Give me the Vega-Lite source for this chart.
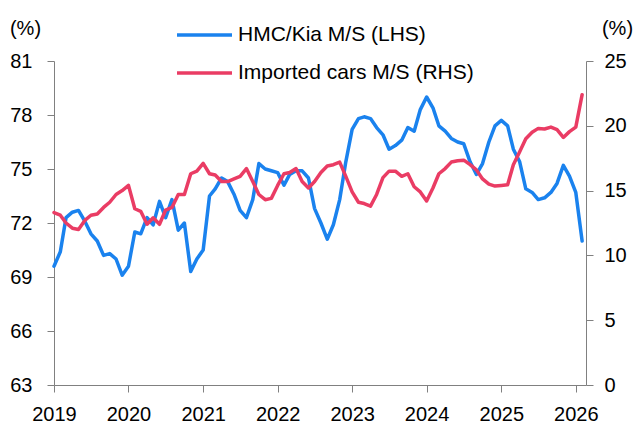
{
  "$schema": "https://vega.github.io/schema/vega-lite/v6.json",
  "width": 532,
  "height": 324,
  "autosize": {"type": "none"},
  "padding": {"left": 54, "top": 61, "right": 48, "bottom": 38},
  "config": {
    "view": {"stroke": null},
    "font": "Liberation Sans",
    "axis": {
      "domainColor": "#808080",
      "tickColor": "#808080",
      "tickSize": 7,
      "grid": false,
      "labelFont": "Liberation Sans",
      "labelFontSize": 20,
      "labelColor": "#000000",
      "labelOverlap": false,
      "labelFlush": false,
      "titleFont": "Liberation Sans",
      "titleFontSize": 20,
      "titleFontWeight": "normal",
      "titleColor": "#000000"
    }
  },
  "data": {
    "values": [
      {"date": "2019-01-01", "hmc": 69.6, "imp": 13.3},
      {"date": "2019-02-01", "hmc": 70.4, "imp": 13.1},
      {"date": "2019-03-01", "hmc": 72.3, "imp": 12.5},
      {"date": "2019-04-01", "hmc": 72.6, "imp": 12.1},
      {"date": "2019-05-01", "hmc": 72.7, "imp": 12.0},
      {"date": "2019-06-01", "hmc": 72.1, "imp": 12.7},
      {"date": "2019-07-01", "hmc": 71.4, "imp": 13.1},
      {"date": "2019-08-01", "hmc": 71.0, "imp": 13.2},
      {"date": "2019-09-01", "hmc": 70.2, "imp": 13.7},
      {"date": "2019-10-01", "hmc": 70.3, "imp": 14.1},
      {"date": "2019-11-01", "hmc": 70.0, "imp": 14.7},
      {"date": "2019-12-01", "hmc": 69.1, "imp": 15.0},
      {"date": "2020-01-01", "hmc": 69.6, "imp": 15.4},
      {"date": "2020-02-01", "hmc": 71.5, "imp": 13.6},
      {"date": "2020-03-01", "hmc": 71.4, "imp": 13.4},
      {"date": "2020-04-01", "hmc": 72.3, "imp": 12.4},
      {"date": "2020-05-01", "hmc": 71.9, "imp": 12.9},
      {"date": "2020-06-01", "hmc": 73.2, "imp": 12.4},
      {"date": "2020-07-01", "hmc": 72.3, "imp": 13.5},
      {"date": "2020-08-01", "hmc": 73.3, "imp": 13.7},
      {"date": "2020-09-01", "hmc": 71.6, "imp": 14.7},
      {"date": "2020-10-01", "hmc": 72.0, "imp": 14.7},
      {"date": "2020-11-01", "hmc": 69.3, "imp": 16.3},
      {"date": "2020-12-01", "hmc": 70.0, "imp": 16.5},
      {"date": "2021-01-01", "hmc": 70.5, "imp": 17.1},
      {"date": "2021-02-01", "hmc": 73.5, "imp": 16.3},
      {"date": "2021-03-01", "hmc": 73.9, "imp": 16.2},
      {"date": "2021-04-01", "hmc": 74.5, "imp": 15.7},
      {"date": "2021-05-01", "hmc": 74.3, "imp": 15.7},
      {"date": "2021-06-01", "hmc": 73.6, "imp": 15.9},
      {"date": "2021-07-01", "hmc": 72.7, "imp": 16.1},
      {"date": "2021-08-01", "hmc": 72.3, "imp": 16.7},
      {"date": "2021-09-01", "hmc": 73.3, "imp": 15.7},
      {"date": "2021-10-01", "hmc": 75.3, "imp": 14.7},
      {"date": "2021-11-01", "hmc": 75.0, "imp": 14.3},
      {"date": "2021-12-01", "hmc": 74.9, "imp": 14.4},
      {"date": "2022-01-01", "hmc": 74.8, "imp": 15.4},
      {"date": "2022-02-01", "hmc": 74.1, "imp": 16.3},
      {"date": "2022-03-01", "hmc": 74.7, "imp": 16.4},
      {"date": "2022-04-01", "hmc": 74.9, "imp": 16.7},
      {"date": "2022-05-01", "hmc": 74.9, "imp": 15.7},
      {"date": "2022-06-01", "hmc": 74.5, "imp": 15.2},
      {"date": "2022-07-01", "hmc": 72.8, "imp": 15.7},
      {"date": "2022-08-01", "hmc": 72.0, "imp": 16.4},
      {"date": "2022-09-01", "hmc": 71.1, "imp": 16.9},
      {"date": "2022-10-01", "hmc": 71.9, "imp": 17.0},
      {"date": "2022-11-01", "hmc": 73.3, "imp": 17.2},
      {"date": "2022-12-01", "hmc": 75.4, "imp": 16.1},
      {"date": "2023-01-01", "hmc": 77.2, "imp": 14.9},
      {"date": "2023-02-01", "hmc": 77.8, "imp": 14.1},
      {"date": "2023-03-01", "hmc": 77.9, "imp": 14.0},
      {"date": "2023-04-01", "hmc": 77.8, "imp": 13.8},
      {"date": "2023-05-01", "hmc": 77.3, "imp": 14.7},
      {"date": "2023-06-01", "hmc": 76.9, "imp": 16.0},
      {"date": "2023-07-01", "hmc": 76.1, "imp": 16.5},
      {"date": "2023-08-01", "hmc": 76.3, "imp": 16.5},
      {"date": "2023-09-01", "hmc": 76.6, "imp": 16.1},
      {"date": "2023-10-01", "hmc": 77.3, "imp": 16.3},
      {"date": "2023-11-01", "hmc": 77.1, "imp": 15.3},
      {"date": "2023-12-01", "hmc": 78.3, "imp": 14.9},
      {"date": "2024-01-01", "hmc": 79.0, "imp": 14.2},
      {"date": "2024-02-01", "hmc": 78.4, "imp": 15.2},
      {"date": "2024-03-01", "hmc": 77.4, "imp": 16.3},
      {"date": "2024-04-01", "hmc": 77.1, "imp": 16.7},
      {"date": "2024-05-01", "hmc": 76.7, "imp": 17.2},
      {"date": "2024-06-01", "hmc": 76.5, "imp": 17.3},
      {"date": "2024-07-01", "hmc": 76.4, "imp": 17.35},
      {"date": "2024-08-01", "hmc": 75.4, "imp": 17.0},
      {"date": "2024-09-01", "hmc": 74.7, "imp": 16.6},
      {"date": "2024-10-01", "hmc": 75.3, "imp": 15.9},
      {"date": "2024-11-01", "hmc": 76.5, "imp": 15.5},
      {"date": "2024-12-01", "hmc": 77.4, "imp": 15.35},
      {"date": "2025-01-01", "hmc": 77.7, "imp": 15.4},
      {"date": "2025-02-01", "hmc": 77.4, "imp": 15.45},
      {"date": "2025-03-01", "hmc": 76.1, "imp": 17.0},
      {"date": "2025-04-01", "hmc": 75.4, "imp": 18.0},
      {"date": "2025-05-01", "hmc": 73.9, "imp": 19.0},
      {"date": "2025-06-01", "hmc": 73.7, "imp": 19.5},
      {"date": "2025-07-01", "hmc": 73.3, "imp": 19.8},
      {"date": "2025-08-01", "hmc": 73.4, "imp": 19.75},
      {"date": "2025-09-01", "hmc": 73.7, "imp": 19.9},
      {"date": "2025-10-01", "hmc": 74.2, "imp": 19.7},
      {"date": "2025-11-01", "hmc": 75.2, "imp": 19.1},
      {"date": "2025-12-01", "hmc": 74.6, "imp": 19.55},
      {"date": "2026-01-01", "hmc": 73.7, "imp": 19.9},
      {"date": "2026-02-01", "hmc": 71.0, "imp": 22.4}
    ]
  },
  "encoding": {
    "x": {
      "field": "date",
      "type": "temporal",
      "scale": {
        "type": "utc",
        "domain": [
          {"year": 2019, "month": 1, "date": 1, "utc": true},
          {"year": 2026, "month": 2, "date": 20, "utc": true}
        ]
      },
      "axis": {
        "title": null,
        "values": [
          {"year": 2019, "month": 1, "date": 1, "utc": true},
          {"year": 2020, "month": 1, "date": 1, "utc": true},
          {"year": 2021, "month": 1, "date": 1, "utc": true},
          {"year": 2022, "month": 1, "date": 1, "utc": true},
          {"year": 2023, "month": 1, "date": 1, "utc": true},
          {"year": 2024, "month": 1, "date": 1, "utc": true},
          {"year": 2025, "month": 1, "date": 1, "utc": true},
          {"year": 2026, "month": 1, "date": 1, "utc": true}
        ],
        "format": "%Y",
        "formatType": "utc",
        "labelPadding": 12
      }
    }
  },
  "layer": [
    {
      "mark": {"type": "line", "strokeWidth": 3.5, "strokeJoin": "round", "strokeCap": "round"},
      "encoding": {
        "y": {
          "field": "hmc",
          "type": "quantitative",
          "scale": {"domain": [63, 81], "nice": false, "zero": false},
          "axis": {
            "orient": "left",
            "values": [63, 66, 69, 72, 75, 78, 81],
            "labelPadding": 15,
            "title": "(%)",
            "titleAngle": 0,
            "titleX": -29,
            "titleY": -33,
            "titleAlign": "center",
            "titleBaseline": "middle"
          }
        },
        "color": {
          "datum": "HMC/Kia M/S (LHS)",
          "type": "nominal",
          "scale": {
            "domain": ["HMC/Kia M/S (LHS)", "Imported cars M/S (RHS)"],
            "range": ["#1a82ee", "#ea3c64"]
          },
          "legend": {
            "orient": "none",
            "legendX": 121,
            "legendY": -38,
            "title": null,
            "padding": 0,
            "symbolType": "stroke",
            "symbolSize": 3025,
            "symbolStrokeWidth": 3.5,
            "clipHeight": 24,
            "rowPadding": 14,
            "labelFont": "Liberation Sans",
            "labelFontSize": 21,
            "labelColor": "#000000",
            "labelOffset": 4,
            "labelLimit": 400
          }
        }
      }
    },
    {
      "mark": {"type": "line", "strokeWidth": 3.5, "strokeJoin": "round", "strokeCap": "round"},
      "encoding": {
        "y": {
          "field": "imp",
          "type": "quantitative",
          "scale": {"domain": [0, 25], "nice": false},
          "axis": {
            "orient": "right",
            "values": [0, 5, 10, 15, 20, 25],
            "labelPadding": 11,
            "title": "(%)",
            "titleAngle": 0,
            "titleX": 31,
            "titleY": -33,
            "titleAlign": "center",
            "titleBaseline": "middle"
          }
        },
        "color": {"datum": "Imported cars M/S (RHS)", "type": "nominal"}
      }
    }
  ],
  "resolve": {"scale": {"y": "independent"}}
}
